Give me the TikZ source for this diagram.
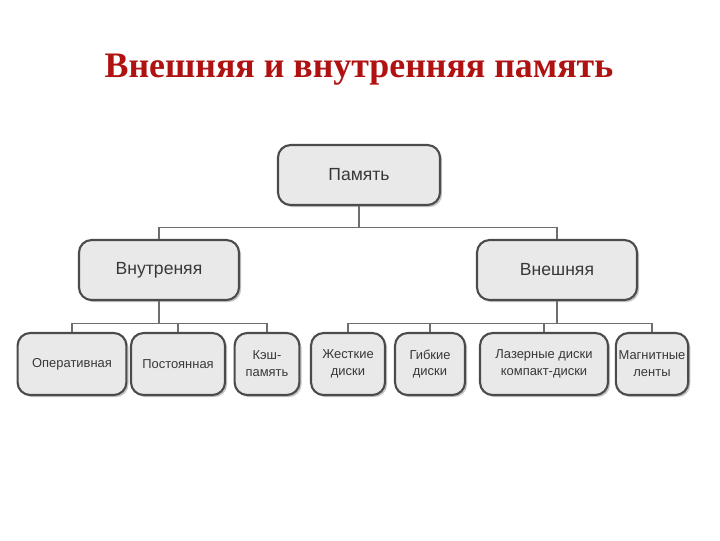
\documentclass[tikz,border=0pt]{standalone}
\usepackage{fontspec}
\setmainfont{Liberation Serif}
\newfontfamily\boxfont{Liberation Sans}
\usetikzlibrary{shadows}
\definecolor{titlered}{RGB}{176,18,18}
\definecolor{boxfill}{RGB}{233,233,233}
\definecolor{boxedge}{RGB}{75,75,75}
\definecolor{linkgray}{RGB}{110,110,110}
\tikzset{
    membox/.style={draw=boxedge, line width=1.5pt, fill=boxfill, rounded corners=9pt,
        drop shadow={shadow xshift=1.5pt, shadow yshift=-1.5pt, opacity=0.45},
        align=center, text=black!78, inner sep=2pt},
    bigbox/.style={membox, font=\boxfont\fontsize{12.5}{14}\selectfont, minimum width=4.0cm, minimum height=1.5cm},
    smallbox/.style={membox, font=\boxfont\fontsize{9.2}{12}\selectfont, minimum height=1.55cm},
    link/.style={draw=linkgray, line width=0.8pt}
}
\begin{document}
\begin{tikzpicture}[x=0.025cm, y=-0.025cm]
    \useasboundingbox (0,0) rectangle (720,540);
    % Title
        \node[font=\bfseries\fontsize{25.5}{30}\selectfont, text=titlered] (title) at (359,70) {Внешняя и внутренняя память};
    % Top level
        \node[bigbox, minimum width=4.05cm] (mem) at (359,175) {Память};
    % Second level
        \node[bigbox] (inner) at (159,270) {Внутреняя};
        \node[bigbox] (outer) at (557,270) {Внешняя};
    % Internal memory
        \node[smallbox, minimum width=2.72cm] (ram) at (72,364) {Оперативная};
        \node[smallbox, minimum width=2.35cm] (rom) at (178,364) {Постоянная};
        \node[smallbox, minimum width=1.62cm] (cache) at (267,364) {Кэш-\\память};
    % External memory
        \node[smallbox, minimum width=1.85cm] (hdd) at (348,364) {Жесткие\\диски};
        \node[smallbox, minimum width=1.75cm] (fdd) at (430,364) {Гибкие\\диски};
        \node[smallbox, minimum width=3.2cm] (cd) at (544,364) {Лазерные диски\\компакт-диски};
        \node[smallbox, minimum width=1.78cm] (tape) at (652,364) {Магнитные\\ленты};
    % Links
        \draw[link] (mem.south) -- ++(0,21) coordinate (memfork);
        \foreach \b in {inner,outer}
            \draw[link] (memfork) -| (\b.north);
        \draw[link] (inner.south) -- ++(0,22) coordinate (innfork);
        \foreach \b in {ram,rom,cache}
            \draw[link] (innfork) -| (\b.north);
        \draw[link] (outer.south) -- ++(0,22) coordinate (outfork);
        \foreach \b in {hdd,fdd,cd,tape}
            \draw[link] (outfork) -| (\b.north);
\end{tikzpicture}
\end{document}
